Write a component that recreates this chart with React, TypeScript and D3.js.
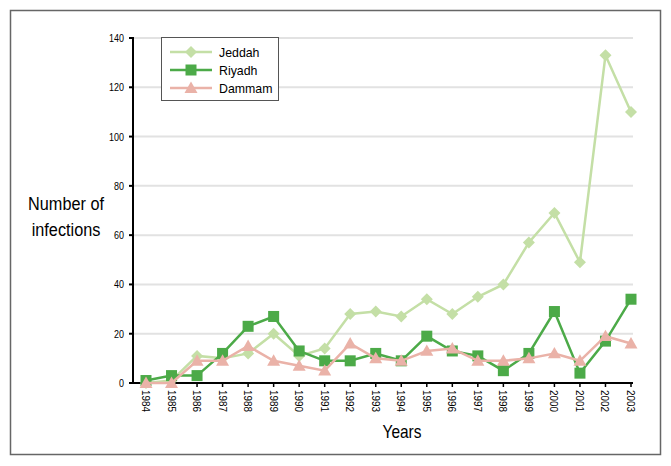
import React from "react";
import * as d3 from "d3";

const years = [1984,1985,1986,1987,1988,1989,1990,1991,1992,1993,1994,1995,1996,1997,1998,1999,2000,2001,2002,2003];
const jeddah = [0,1,11,10,12,20,11,14,28,29,27,34,28,35,40,57,69,49,133,110];
const riyadh = [1,3,3,12,23,27,13,9,9,12,9,19,13,11,5,12,29,4,17,34];
const dammam = [0,0,9,9,15,9,7,5,16,10,9,13,14,9,9,10,12,9,19,16];
const yTicks = [0,20,40,60,80,100,120,140];
const seriesNames = ["Jeddah","Riyadh","Dammam"];
const seriesColors = ["#c4dfa6","#4caa48","#eab2a8"];

const FONT = "'Liberation Sans', Arial, sans-serif";

function Marker({ kind, x, y, color }: { kind: number; x: number; y: number; color: string }) {
  if (kind === 0) {
    const s = 6;
    return <path d={`M${x},${y - s}L${x + s},${y}L${x},${y + s}L${x - s},${y}Z`} fill={color} />;
  }
  if (kind === 1) {
    return <rect x={x - 5.5} y={y - 5.5} width={11} height={11} fill={color} />;
  }
  const s = 6.5;
  return <path d={`M${x},${y - s}L${x + s},${y + s * 0.75}L${x - s},${y + s * 0.75}Z`} fill={color} />;
}

function T({ x, y, rot = 0, sx = 1, size, anchor = "start", dy, children }: any) {
  return (
    <text
      transform={`translate(${x},${y}) rotate(${rot}) scale(${sx},1)`}
      fontSize={size}
      textAnchor={anchor}
      dy={dy}
      fill="#000"
    >
      {children}
    </text>
  );
}

export default function App() {
  const W = 671, H = 466;
  const x0 = 133, xEnd = 633, yTop = 38, yBot = 383;
  const x = d3.scalePoint<number>().domain(years).range([146, 631]);
  const y = d3.scaleLinear().domain([0, 140]).range([yBot, yTop]);
  const data = [jeddah, riyadh, dammam];
  const line = d3.line<number>().x((_, i) => x(years[i])!).y(d => y(d));

  return (
    <svg width={W} height={H} style={{ position: "absolute", left: 0, top: 0 }} fontFamily={FONT}>
      <rect x={0} y={0} width={W} height={H} fill="#fff" />
      <rect x={10.5} y={10.5} width={650} height={444} fill="none" stroke="#666" strokeWidth={1.5} />
      {yTicks.filter(t => t > 0).map(t => (
        <line key={t} x1={x0} x2={xEnd} y1={y(t)} y2={y(t)} stroke="#e2e2e2" strokeWidth={2} />
      ))}
      <line x1={x0} x2={x0} y1={yTop - 1} y2={yBot + 1} stroke="#000" strokeWidth={2} />
      <line x1={x0 - 1} x2={xEnd} y1={yBot} y2={yBot} stroke="#000" strokeWidth={2} />
      {yTicks.map(t => (
        <g key={t}>
          <line x1={x0 - 4} x2={x0} y1={y(t)} y2={y(t)} stroke="#000" strokeWidth={2} />
          <T x={x0 - 9} y={y(t)} dy="0.35em" anchor="end" size={11.5} sx={0.78}>{t}</T>
        </g>
      ))}
      {years.map(yr => (
        <g key={yr}>
          <line x1={x(yr)} x2={x(yr)} y1={yBot} y2={yBot + 4} stroke="#000" strokeWidth={1.5} />
          <T x={x(yr)! - 4} y={yBot + 7} rot={90} size={11} sx={0.9}>{yr}</T>
        </g>
      ))}
      {data.map((d, k) => (
        <g key={k}>
          <path d={line(d)!} fill="none" stroke={seriesColors[k]} strokeWidth={2.5} />
          {d.map((v, i) => (
            <Marker key={i} kind={k} x={x(years[i])!} y={y(v)} color={seriesColors[k]} />
          ))}
        </g>
      ))}
      <rect x={161.5} y={37.5} width={117} height={63} fill="#fff" stroke="#555" strokeWidth={1} />
      {seriesNames.map((n, k) => {
        const ly = 52 + k * 18;
        return (
          <g key={n}>
            <line x1={170} x2={212} y1={ly} y2={ly} stroke={seriesColors[k]} strokeWidth={2.5} />
            <Marker kind={k} x={191} y={ly} color={seriesColors[k]} />
            <T x={219} y={ly} dy="0.35em" size={13} sx={0.95}>{n}</T>
          </g>
        );
      })}
      <T x={66} y={210} anchor="middle" size={17.5} sx={0.93}>Number of</T>
      <T x={66} y={236} anchor="middle" size={17.5} sx={0.93}>infections</T>
      <T x={402} y={438} anchor="middle" size={18} sx={0.86}>Years</T>
    </svg>
  );
}
